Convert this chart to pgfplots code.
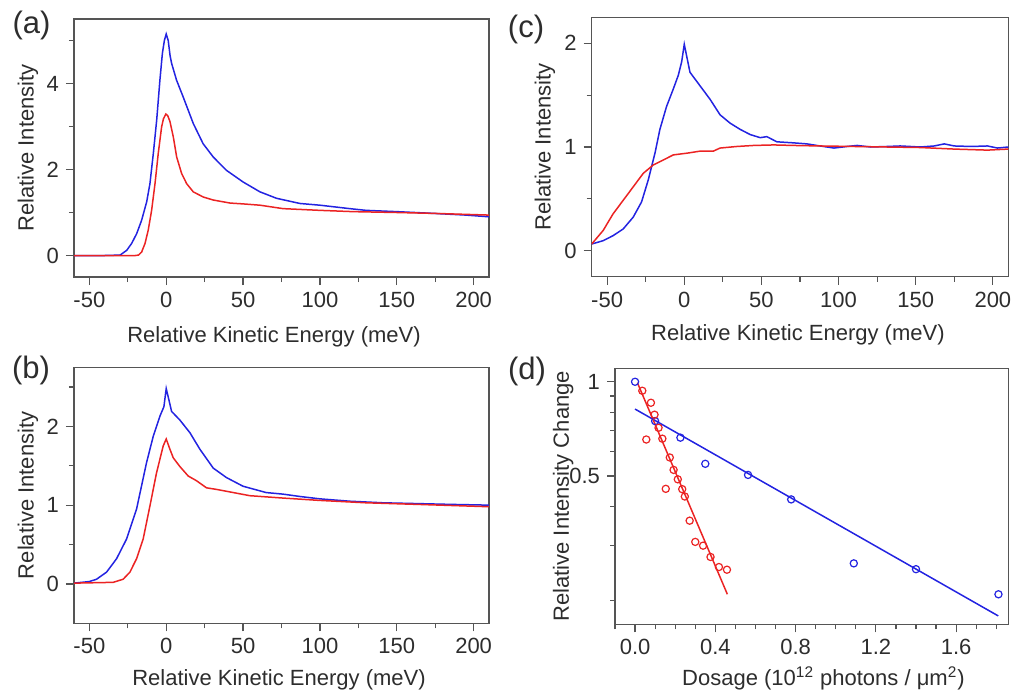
\documentclass[border=0pt]{standalone}
\usepackage{fontspec}
\setmainfont{Liberation Sans}
\usepackage{pgfplots}
\pgfplotsset{compat=1.18}

\definecolor{cblue}{RGB}{35,35,225}
\definecolor{cred}{RGB}{235,35,35}
\definecolor{framecol}{RGB}{85,85,85}
\definecolor{txt}{RGB}{45,45,45}

% panel (a)
\pgfplotstableread{
x y
-60 0
-40 0
-30 0.01
-25.7 0.12
-22.5 0.28
-19.2 0.51
-16.0 0.82
-12.7 1.25
-10.6 1.67
-8.4 2.37
-6.2 3.15
-4.1 4.08
-2.5 4.70
-1.2 5.00
0 5.15
1.3 5.0
2.5 4.65
3.5 4.47
6.7 4.08
11 3.69
17.6 3.07
24 2.60
30.6 2.29
39.2 1.98
50 1.71
61 1.48
71.8 1.33
87 1.21
100 1.17
119.4 1.09
130 1.05
150 1.02
173.6 0.98
195 0.94
210 0.90
}\aBlue
\pgfplotstableread{
x y
-60 0
-20 0
-18 0.01
-16 0.08
-13.8 0.28
-11.7 0.59
-9.5 1.05
-7.3 1.67
-5.2 2.37
-3.0 2.99
-1.8 3.18
-0.2 3.29
1.0 3.25
2.4 3.12
4.6 2.76
6.8 2.29
10 1.91
13.3 1.67
17.6 1.48
24.1 1.36
30.6 1.29
41.5 1.22
50 1.20
61 1.17
76 1.09
100 1.05
121.6 1.02
150 1.0
173.6 0.98
210 0.94
}\aRed

% panel (b)
\pgfplotstableread{
x y
-60 0.01
-50 0.03
-45.3 0.06
-38.8 0.15
-32.3 0.32
-25.8 0.57
-19.3 0.95
-12.8 1.54
-8.5 1.87
-4.1 2.13
-1.5 2.25
0 2.48
1.7 2.34
3.5 2.19
8.9 2.08
15.4 1.92
21.9 1.71
30.6 1.47
39.2 1.35
50 1.24
65 1.16
76 1.14
87 1.11
100 1.08
119.4 1.05
141 1.03
163 1.02
184.5 1.01
210 1.0
}\bBlue
\pgfplotstableread{
x y
-60 0.01
-34.5 0.02
-28 0.06
-23.6 0.15
-19.3 0.32
-15 0.57
-10.6 0.99
-6.3 1.41
-2 1.75
0 1.84
2.4 1.71
4.6 1.60
8.9 1.49
14.3 1.37
19.7 1.31
26.2 1.22
32.7 1.20
43.6 1.16
54.4 1.12
76 1.09
100 1.06
130 1.03
163 1.01
210 0.98
}\bRed

% panel (c)
\pgfplotstableread{
x y
-60 0.065
-52.6 0.097
-46.1 0.146
-39.6 0.21
-33.1 0.324
-27.7 0.47
-23.4 0.68
-19.0 0.94
-15.8 1.17
-11.5 1.39
-7.1 1.56
-3.9 1.69
-1.7 1.82
0 1.99
1.5 1.88
3.7 1.72
10.2 1.59
16.7 1.46
23.2 1.31
29.7 1.23
36.2 1.17
42.7 1.12
49.2 1.09
53.5 1.10
60 1.05
70.8 1.04
79.5 1.03
88 1.01
97 0.99
105.5 1.005
112 1.015
120.7 1.0
131.5 1.005
140 1.01
153 1.0
162 1.01
168.5 1.03
175 1.01
186 1.005
196.5 1.01
203 0.99
210 1.0
}\cBlue
\pgfplotstableread{
x y
-60 0.065
-52.6 0.195
-46.1 0.357
-39.6 0.486
-33.1 0.616
-26.6 0.746
-20.1 0.827
-13.6 0.875
-7.1 0.924
1.5 0.94
10.2 0.96
18.8 0.96
23.2 0.99
34 1.005
45 1.015
58 1.02
70.8 1.015
88 1.01
110 1.005
131.5 1.0
153 0.995
175 0.98
196.5 0.97
210 0.98
}\cRed

% panel (d)
\pgfplotstableread{
x y
0 1.0
0.100 0.749
0.226 0.663
0.350 0.547
0.563 0.504
0.778 0.421
1.090 0.263
1.400 0.252
1.811 0.2095
}\dBlue
\pgfplotstableread{
x y
0.036 0.936
0.079 0.857
0.097 0.785
0.117 0.713
0.056 0.654
0.136 0.658
0.173 0.573
0.192 0.523
0.213 0.488
0.153 0.455
0.235 0.454
0.248 0.430
0.272 0.360
0.300 0.308
0.339 0.2996
0.376 0.2757
0.418 0.256
0.458 0.251
}\dRed

\pgfplotsset{
  panel/.style={
    scale only axis,
    axis line style={framecol, line width=0.6pt},
    tick style={framecol, line width=0.6pt},
    tick align=outside,
    tick pos=left,
    major tick length=4pt,
    minor tick length=2.5pt,
    ticklabel style={font=\fontsize{11}{13}\selectfont, text=txt},
    label style={font=\fontsize{11}{13}\selectfont, text=txt},
    /pgf/number format/assume math mode=true,
    every axis plot/.append style={line width=0.75pt},
  },
  spec/.style={
    panel,
    xmin=-60, xmax=210,
    xtick={-50,0,50,100,150,200},
    minor xtick={-25,25,75,125,175},
    xlabel={Relative Kinetic Energy (meV)},
    ylabel={Relative Intensity},
  },
}
\tikzset{plab/.style={font=\fontsize{15.5}{17}\selectfont, text=txt}}

\begin{document}
\begin{tikzpicture}
\path[use as bounding box] (0,0) rectangle (506.5pt,-345.5pt);

\node[plab] at (15.8pt,-12.5pt) {(a)};
\node[plab] at (15.5pt,-185pt) {(b)};
\node[plab] at (263pt,-14.5pt) {(c)};
\node[plab] at (263.5pt,-185.5pt) {(d)};

% (a)
\begin{axis}[spec,
  at={(37pt,-138.5pt)}, anchor=south west,
  width=207.5pt, height=129pt,
  ymin=-0.5, ymax=5.5,
  ytick={0,2,4}, minor ytick={1,3,5},
  xlabel style={at={(axis description cs:0.482,-0.231)}, anchor=center},
  ylabel style={at={(axis description cs:-0.111,0.5)}, anchor=center},
]
\addplot[cblue] table[x=x,y=y] {\aBlue};
\addplot[cred] table[x=x,y=y] {\aRed};
\end{axis}

% (b)
\begin{axis}[spec,
  at={(37pt,-311.65pt)}, anchor=south west,
  width=207.5pt, height=128pt,
  ymin=-0.5, ymax=2.75,
  ytick={0,1,2}, minor ytick={0.5,1.5,2.5},
  xlabel style={at={(axis description cs:0.494,-0.220)}, anchor=center},
  ylabel style={at={(axis description cs:-0.111,0.5)}, anchor=center},
]
\addplot[cblue] table[x=x,y=y] {\bBlue};
\addplot[cred] table[x=x,y=y] {\bRed};
\end{axis}

% (c)
\begin{axis}[spec,
  at={(295.85pt,-138.35pt)}, anchor=south west,
  width=208.3pt, height=129.7pt,
  ymin=-0.25, ymax=2.25,
  ytick={0,1,2}, minor ytick={0.5,1.5},
  xlabel style={at={(axis description cs:0.495,-0.225)}, anchor=center},
  ylabel style={at={(axis description cs:-0.112,0.5)}, anchor=center},
]
\addplot[cblue] table[x=x,y=y] {\cBlue};
\addplot[cred] table[x=x,y=y] {\cRed};
\end{axis}

% (d)
\begin{axis}[panel,
  at={(307.5pt,-312.15pt)}, anchor=south west,
  width=196.65pt, height=128pt,
  xmin=-0.1, xmax=1.86,
  ymode=log, ymin=0.168, ymax=1.104,
  xtick={0,0.4,0.8,1.2,1.6},
  minor xtick={-0.1,0.1,0.2,0.3,0.5,0.6,0.7,0.9,1.0,1.1,1.3,1.4,1.5,1.7,1.8},
  xticklabel style={/pgf/number format/.cd, fixed, fixed zerofill, precision=1},
  ytick={0.5,1}, yticklabels={0.5,1},
  minor ytick={0.2,0.3,0.4,0.6,0.7,0.8,0.9},
  xlabel={Dosage (10\textsuperscript{12} photons / μm\textsuperscript{2})},
  ylabel={Relative Intensity Change},
  xlabel style={at={(axis description cs:0.53,-0.21)}, anchor=center},
  ylabel style={at={(axis description cs:-0.132,0.5)}, anchor=center},
]
\addplot[cblue] coordinates {(0,0.818) (1.81,0.1787)};
\addplot[cred] coordinates {(0.0116,0.993) (0.46,0.2095)};
\addplot[cblue, only marks, mark=o, mark size=1.8pt, mark options={line width=0.6pt}] table[x=x,y=y] {\dBlue};
\addplot[cred, only marks, mark=o, mark size=1.8pt, mark options={line width=0.6pt}] table[x=x,y=y] {\dRed};
\end{axis}
\end{tikzpicture}
\end{document}
